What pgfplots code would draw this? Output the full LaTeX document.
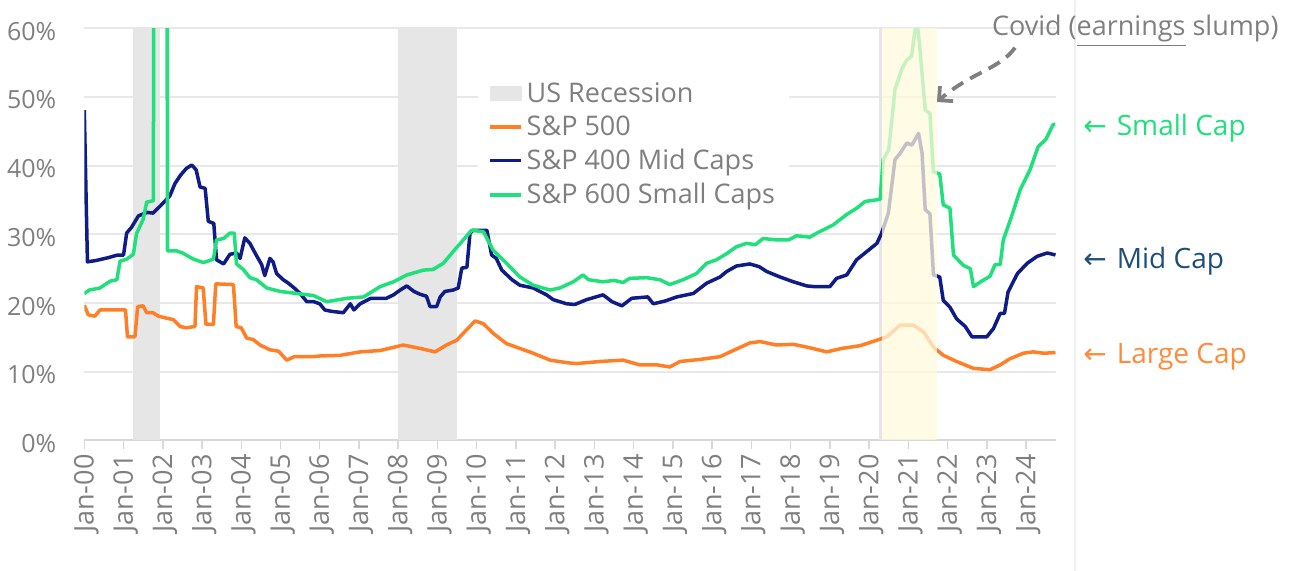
\documentclass[border=0pt]{standalone}
\usepackage{fontspec}
\setmainfont{Open Sans}
\newfontfamily\dejavu{DejaVu Sans}
\usepackage{pgfplots}
\pgfplotsset{compat=1.18}
\usetikzlibrary{arrows.meta}
\definecolor{textgrey}{HTML}{7F7F7F}
\definecolor{gridgrey}{HTML}{E8E8E8}
\definecolor{axisgrey}{HTML}{D9D9D9}
\definecolor{recgrey}{HTML}{E6E6E6}
\definecolor{spOrange}{HTML}{FF7F27}
\definecolor{spNavy}{HTML}{101C85}
\definecolor{spGreen}{HTML}{1FE07A}
\definecolor{midBlue}{HTML}{1F4E79}
\definecolor{largeOrange}{HTML}{FF8A3A}
\definecolor{covidY}{HTML}{FFF9DC}
\definecolor{faint}{HTML}{F0F0F0}

\pgfplotstableread{
x y
2000.00 19.7
2000.10 18.3
2000.27 18.1
2000.40 19.0
2000.74 19.0
2001.05 19.0
2001.10 15.1
2001.29 15.1
2001.36 19.5
2001.50 19.6
2001.59 18.6
2001.75 18.6
2001.89 18.1
2002.10 17.8
2002.27 17.6
2002.44 16.6
2002.60 16.4
2002.82 16.6
2002.86 22.4
2003.03 22.2
2003.10 16.9
2003.29 16.9
2003.35 22.8
2003.80 22.7
2003.87 16.6
2004.00 16.4
2004.14 14.9
2004.30 14.7
2004.48 13.9
2004.73 13.2
2004.95 13.0
2005.16 11.7
2005.35 12.2
2005.84 12.2
2006.00 12.3
2006.52 12.4
2007.03 12.9
2007.54 13.1
2008.13 13.9
2008.56 13.4
2008.94 12.9
2009.23 13.9
2009.49 14.6
2009.74 16.1
2009.96 17.4
2010.17 17.0
2010.42 15.6
2010.76 14.1
2011.10 13.4
2011.44 12.7
2011.87 11.7
2012.33 11.3
2012.55 11.2
2013.14 11.5
2013.73 11.7
2014.16 11.0
2014.60 11.0
2014.92 10.7
2015.18 11.5
2015.69 11.8
2016.20 12.2
2016.54 13.1
2016.96 14.2
2017.22 14.4
2017.64 13.9
2018.07 14.0
2018.49 13.5
2018.92 12.9
2019.30 13.4
2019.77 13.8
2020.20 14.6
2020.45 15.1
2020.79 16.8
2021.13 16.8
2021.39 15.8
2021.64 13.6
2021.89 12.4
2022.23 11.5
2022.66 10.5
2023.08 10.3
2023.34 11.0
2023.59 11.9
2023.93 12.7
2024.18 12.9
2024.45 12.7
2024.75 12.8
}\largecap

\pgfplotstableread{
x y
2000.00 48.1
2000.08 26.0
2000.30 26.2
2000.60 26.6
2000.85 27.0
2001.00 27.0
2001.08 30.2
2001.20 31.0
2001.38 32.7
2001.60 33.2
2001.75 33.1
2001.93 34.1
2002.18 35.6
2002.31 37.4
2002.45 38.6
2002.60 39.6
2002.74 40.1
2002.85 39.4
2002.95 36.9
2003.08 36.7
2003.16 31.9
2003.30 31.6
2003.37 26.3
2003.55 25.7
2003.71 27.1
2003.88 27.3
2003.97 26.5
2004.09 29.5
2004.22 28.7
2004.38 27.0
2004.52 25.6
2004.60 24.0
2004.73 26.5
2004.81 26.0
2004.90 24.3
2005.07 23.4
2005.20 22.9
2005.35 22.2
2005.50 21.4
2005.67 20.2
2005.85 20.2
2006.00 19.9
2006.13 19.0
2006.30 18.8
2006.60 18.6
2006.78 19.9
2006.87 19.0
2007.03 19.9
2007.30 20.7
2007.70 20.7
2007.88 21.2
2008.05 21.9
2008.22 22.5
2008.40 21.7
2008.55 21.3
2008.72 21.0
2008.81 19.5
2008.98 19.5
2009.07 20.9
2009.19 21.7
2009.40 21.9
2009.53 22.2
2009.62 25.1
2009.75 25.2
2009.83 30.2
2009.90 30.6
2010.26 30.6
2010.38 27.0
2010.50 26.5
2010.64 24.8
2010.90 23.4
2011.10 22.6
2011.44 22.2
2011.78 21.2
2011.95 20.5
2012.29 19.9
2012.50 19.8
2012.80 20.5
2013.22 21.2
2013.45 20.2
2013.70 19.6
2013.95 20.7
2014.36 20.9
2014.50 19.9
2014.80 20.3
2015.10 20.9
2015.52 21.4
2015.86 22.9
2016.20 23.8
2016.37 24.6
2016.62 25.4
2016.96 25.7
2017.20 25.3
2017.39 24.6
2017.73 23.8
2018.07 23.1
2018.41 22.5
2018.60 22.4
2019.00 22.4
2019.17 23.6
2019.43 24.1
2019.68 26.3
2019.94 27.5
2020.20 28.7
2020.32 30.2
2020.49 33.1
2020.66 40.9
2020.79 41.8
2020.96 43.3
2021.09 43.0
2021.26 44.7
2021.35 41.8
2021.43 33.6
2021.55 33.0
2021.64 24.1
2021.80 23.8
2021.89 20.4
2022.06 19.4
2022.23 17.7
2022.45 16.6
2022.62 15.1
2023.00 15.1
2023.17 16.3
2023.34 18.5
2023.45 18.5
2023.54 21.6
2023.78 24.3
2024.03 25.8
2024.28 26.8
2024.54 27.3
2024.75 27.0
}\midcap

\pgfplotstableread{
x y
2000.00 21.4
2000.13 21.9
2000.40 22.2
2000.66 23.2
2000.83 23.4
2000.91 26.1
2001.08 26.4
2001.25 27.1
2001.33 30.1
2001.50 32.2
2001.59 34.7
2001.76 34.9
2001.78 100
2002.10 100
2002.12 27.6
2002.35 27.6
2002.50 27.3
2002.78 26.4
2003.04 25.9
2003.29 26.4
2003.37 29.2
2003.55 29.4
2003.71 30.2
2003.82 30.2
2003.88 25.7
2004.05 24.9
2004.22 23.7
2004.39 23.4
2004.65 22.2
2004.99 21.7
2005.41 21.4
2005.84 21.1
2006.18 20.2
2006.69 20.7
2007.12 20.9
2007.54 22.4
2007.88 23.1
2008.22 24.1
2008.64 24.8
2008.89 24.9
2009.15 25.8
2009.40 27.5
2009.66 29.2
2009.87 30.6
2010.17 30.4
2010.42 27.7
2010.76 25.8
2011.10 23.8
2011.44 22.6
2011.87 21.9
2012.12 22.2
2012.46 23.1
2012.71 24.1
2012.85 23.4
2013.22 23.1
2013.50 23.3
2013.73 23.0
2013.90 23.6
2014.33 23.7
2014.67 23.4
2014.92 22.7
2015.26 23.4
2015.60 24.3
2015.86 25.8
2016.11 26.3
2016.37 27.2
2016.62 28.2
2016.88 28.7
2017.10 28.5
2017.30 29.4
2017.64 29.2
2017.95 29.2
2018.15 29.8
2018.49 29.6
2018.67 30.2
2019.09 31.4
2019.43 32.9
2019.68 33.8
2019.90 34.8
2020.28 35.1
2020.36 40.9
2020.50 42.3
2020.66 51.1
2020.83 54.0
2020.96 55.4
2021.08 55.9
2021.17 59.75
2021.22 61.0
2021.28 58.0
2021.43 48.1
2021.55 47.6
2021.64 39.1
2021.80 38.8
2021.89 34.3
2022.06 33.8
2022.15 27.0
2022.40 25.5
2022.58 25.0
2022.66 22.4
2022.87 23.2
2023.08 23.9
2023.21 25.6
2023.34 25.6
2023.42 29.2
2023.63 32.6
2023.85 36.5
2024.10 39.4
2024.31 42.8
2024.50 43.8
2024.69 46.0
2024.75 46.0
}\smallcap

\begin{document}
\begin{tikzpicture}[x=1pt,y=1pt]
\path[use as bounding box] (0,0) rectangle (656,285.5);
\draw[color=faint, line width=0.6pt] (537.5,0) -- (537.5,285.5);
\begin{axis}[
  at={(42.15pt,65.25pt)}, anchor=south west,
  scale only axis, width=485.85pt, height=206.1pt,
  xmin=2000, xmax=2024.763, ymin=0, ymax=60,
  clip mode=individual,
  separate axis lines,
  axis x line*=bottom,
  axis y line*=left,
  y axis line style={draw=none},
  x axis line style={draw=axisgrey, line width=1pt},
  tick align=outside,
  major tick length=4.5pt,
  xtick style={draw=axisgrey, line width=0.75pt},
  ytick style={draw=none},
  xtick={2000,2001,...,2024},
  xticklabels={Jan-00,Jan-01,Jan-02,Jan-03,Jan-04,Jan-05,Jan-06,Jan-07,Jan-08,Jan-09,Jan-10,Jan-11,Jan-12,Jan-13,Jan-14,Jan-15,Jan-16,Jan-17,Jan-18,Jan-19,Jan-20,Jan-21,Jan-22,Jan-23,Jan-24},
  ytick={0,10,...,60},
  yticklabels={0\%,10\%,20\%,30\%,40\%,50\%,60\%},
  xticklabel style={rotate=90, anchor=east, text=textgrey, font=\fontsize{13.5}{15}\selectfont, xshift=1pt, yshift=-1pt},
  yticklabel style={anchor=east, text=textgrey, font=\fontsize{12.5}{14}\selectfont, xshift=-6pt, yshift=-1.5pt},
  ymajorgrids,
  grid style={draw=gridgrey, line width=1pt},
  legend cell align=left,
  legend style={at={(0.405,0.894)}, anchor=north west, draw=none, fill=white,
    font=\fontsize{13.5}{16}\selectfont, text=textgrey, inner xsep=5pt, inner ysep=3pt,
    row sep=1.3pt},
  legend image code/.code={\draw[#1] (0pt,0pt) -- (15.5pt,0pt);},
]
\addplot[fill=recgrey, draw=none,
  legend image code/.code={\fill[recgrey] (0pt,-3.75pt) rectangle (16pt,3.75pt);}]
  coordinates {(2001.25,60) (2001.92,60)} \closedcycle;
\addlegendentry{US Recession}
\addplot[fill=recgrey, draw=none, forget plot] coordinates {(2008.0,60) (2009.5,60)} \closedcycle;
\addplot[fill=recgrey, draw=none, forget plot] coordinates {(2020.25,60) (2020.33,60)} \closedcycle;

\addplot[spOrange, line width=1.75pt, line join=round] table {\largecap};
\addlegendentry{S\&P 500}
\addplot[spNavy, line width=1.75pt, line join=round] table {\midcap};
\addlegendentry{S\&P 400 Mid Caps}
\addplot[spGreen, line width=1.75pt, line join=round] table {\smallcap};
\addlegendentry{S\&P 600 Small Caps}

\addplot[fill=covidY, fill opacity=0.75, draw=none, forget plot] coordinates {(2020.33,60) (2021.72,60)} \closedcycle;
\end{axis}

\node[anchor=base west, text=spGreen, font=\fontsize{14}{16}\selectfont, inner sep=0pt] at (541.5,217.5) {{\dejavu ←}\hspace{5pt}Small Cap};
\node[anchor=base west, text=midBlue, font=\fontsize{14}{16}\selectfont, inner sep=0pt] at (541.5,151.3) {{\dejavu ←}\hspace{5pt}Mid Cap};
\node[anchor=base west, text=largeOrange, font=\fontsize{14}{16}\selectfont, inner sep=0pt] at (541.5,103.5) {{\dejavu ←}\hspace{5pt}Large Cap};
\node[anchor=base west, text=textgrey, font=\fontsize{13.5}{16}\selectfont, inner sep=0pt] at (495.8,267.5) {Covid (\underline{earnings} slump)};
\draw[textgrey, line width=1.9pt, dash pattern=on 6.5pt off 4pt, -{Straight Barb[length=5pt, width=10pt]}]
  (507.5,261.65) .. controls (500,251) and (485,249) .. (468.5,234.5);
\end{tikzpicture}
\end{document}
